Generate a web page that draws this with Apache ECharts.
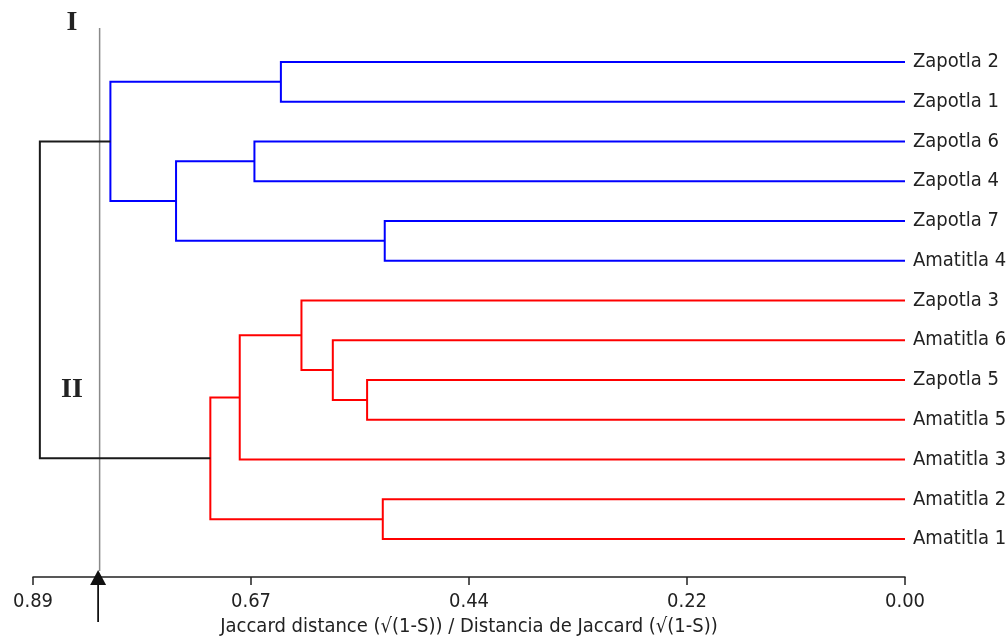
<!DOCTYPE html>
<html><head><meta charset="utf-8">
<script src="https://cdn.jsdelivr.net/npm/echarts@6/dist/echarts.min.js"></script>
<style>html,body{margin:0;padding:0;background:#fff}#c{width:1006px;height:640px}</style>
</head><body><div id="c"></div>
<script>
// leaves, top to bottom
const leaves = ['Zapotla 2','Zapotla 1','Zapotla 6','Zapotla 4','Zapotla 7','Amatitla 4','Zapotla 3','Amatitla 6','Zapotla 5','Amatitla 5','Amatitla 3','Amatitla 2','Amatitla 1'];
// merges: node ids 0..12 are leaves; merge k creates node 13+k
const mergeLeft   = [0, 2, 4, 14, 13, 8, 7, 6, 20, 11, 21, 17];
const mergeRight  = [1, 3, 5, 15, 16, 9, 18, 19, 10, 12, 22, 23];
const mergeHeight = [0.637, 0.664, 0.531, 0.744, 0.811, 0.549, 0.584, 0.616, 0.679, 0.533, 0.709, 0.883];
const mergeGroup  = ['I','I','I','I','I','II','II','II','II','II','II','root'];
const tickLabels  = ['0.00','0.22','0.44','0.67','0.89'];
const axisMax = 0.89;
const cutoff = [0.822];
const axisTitle = 'Jaccard distance (\u221A(1-S)) / Distancia de Jaccard (\u221A(1-S))';

const FONT = "'DejaVu Sans Condensed','Liberation Sans Narrow','Liberation Sans',sans-serif";
const groupColor = {I:'#0000ff', II:'#ff0000', root:'#1a1a1a'};

// node positions (y in category units, height in distance units)
const nodeY = leaves.map((_, i) => i);
const nodeH = leaves.map(() => 0);
mergeHeight.forEach((h, k) => {
  nodeY.push((nodeY[mergeLeft[k]] + nodeY[mergeRight[k]]) / 2);
  nodeH.push(h);
});

const chart = echarts.init(document.getElementById('c'), null, {renderer:'canvas'});
const step = axisMax / (tickLabels.length - 1);

function renderMerge(params, api) {
  const k = api.value(1);
  const yPix = f => {
    const a = Math.floor(f), b = Math.ceil(f);
    const pa = api.coord([0, a])[1], pb = api.coord([0, b])[1];
    return pa + (pb - pa) * (f - a);
  };
  const xPix = v => api.coord([v, 0])[0];
  const L = mergeLeft[k], R = mergeRight[k], h = mergeHeight[k];
  const pts = [
    [xPix(nodeH[L]), yPix(nodeY[L])],
    [xPix(h), yPix(nodeY[L])],
    [xPix(h), yPix(nodeY[R])],
    [xPix(nodeH[R]), yPix(nodeY[R])]
  ];
  return {
    type:'polyline',
    shape:{points:pts},
    style:{stroke:groupColor[mergeGroup[k]], lineWidth:2, fill:null}
  };
}

function renderCutoff(params, api) {
  const x = api.coord([api.value(0), 0])[0];
  const cs = params.coordSys;
  const top = cs.y - 14;
  const axisY = cs.y + cs.height + 18;
  return {
    type:'group',
    children:[
      {type:'line', shape:{x1:x, y1:top, x2:x, y2:axisY - 6}, style:{stroke:'#8a8a8a', lineWidth:1.5}},
      {type:'polygon', shape:{points:[[x - 1.5, axisY - 7],[x - 9.5, axisY + 8],[x + 6.5, axisY + 8]]}, style:{fill:'#111'}},
      {type:'line', shape:{x1:x - 1.5, y1:axisY + 8, x2:x - 1.5, y2:axisY + 45}, style:{stroke:'#111', lineWidth:1.8}}
    ]
  };
}

chart.setOption({
  animation:false,
  backgroundColor:'#fff',
  grid:{left:33, right:101, top:42, bottom:81, outerBoundsMode:'none', containLabel:false},
  xAxis:{
    type:'value', min:0, max:axisMax, interval:step, inverse:true, offset:18,
    splitLine:{show:false},
    axisLine:{show:true, lineStyle:{color:'#222', width:1.5}},
    axisTick:{show:true, length:8, lineStyle:{color:'#222', width:1.5}},
    axisLabel:{
      margin:15, fontFamily:FONT, fontSize:20, color:'#222',
      formatter:v => tickLabels[Math.round(v / step)]
    },
    name:axisTitle, nameLocation:'middle', nameGap:40,
    nameTextStyle:{fontFamily:FONT, fontSize:20, color:'#222'}
  },
  yAxis:{
    type:'category', data:leaves, inverse:true, position:'right',
    axisLine:{show:false}, axisTick:{show:false}, splitLine:{show:false},
    axisLabel:{margin:8, fontFamily:FONT, fontSize:20, color:'#222'}
  },
  graphic:[
    {type:'text', x:72, y:23, style:{text:'I', font:"bold 28px 'Liberation Serif','DejaVu Serif',serif", fill:'#222', align:'center', verticalAlign:'middle'}},
    {type:'text', x:72, y:390, style:{text:'II', font:"bold 28px 'Liberation Serif','DejaVu Serif',serif", fill:'#222', align:'center', verticalAlign:'middle'}}
  ],
  series:[
    {type:'custom', renderItem:renderCutoff, data:cutoff.map(v => [v, 0]), clip:false, silent:true, z:1},
    {type:'custom', renderItem:renderMerge, data:mergeHeight.map((h, k) => [h, k]), clip:false, silent:true, z:2}
  ]
});
</script>
</body></html>
